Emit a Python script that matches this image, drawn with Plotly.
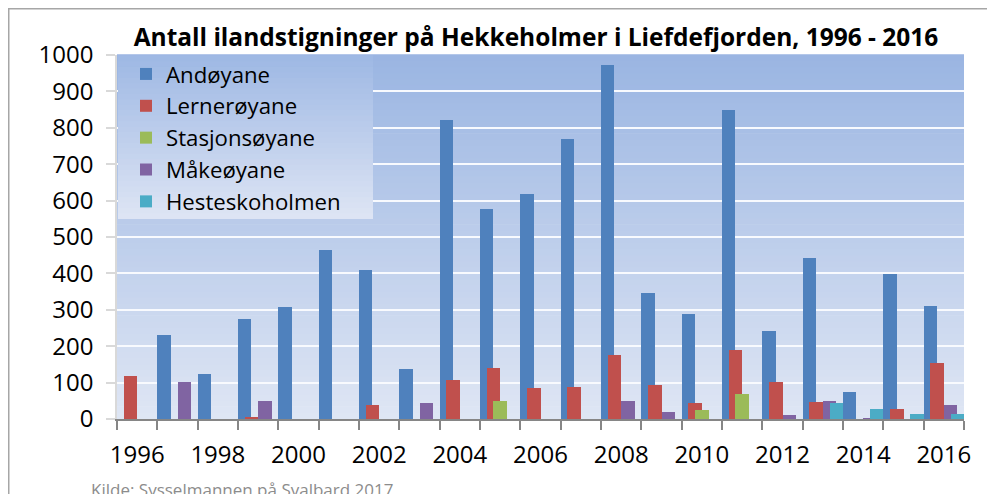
import plotly.graph_objects as go

years = list(range(1996, 2017))
series_names = ["Andøyane", "Lernerøyane", "Stasjonsøyane", "Måkeøyane", "Hesteskoholmen"]
andoyane = [None, 232, 124, 275, 307, 464, 408, 137, 821, 578, 617, 769, 972, 347, 288, 850, 242, 443, 74, 397, 310]
lerneroyane = [117, None, None, 5, None, None, 39, None, 107, 140, 85, 88, 175, 93, 45, 190, 102, 46, None, 28, 155]
stasjonsoyane = [None, None, None, None, None, None, None, None, None, 50, None, None, None, None, 25, 69, None, None, None, None, None]
makeoyane = [None, 103, None, 50, None, None, None, 43, None, None, None, None, 50, 20, None, None, 11, 49, 2, None, 38]
hesteskoholmen = [None] * 17 + [44, 27, 13, 14]
colors = ["#4F81BD", "#C0504D", "#9BBB59", "#8064A2", "#4BACC6"]
xtick_labels = [str(y) for y in range(1996, 2017, 2)]

title_text = "Antall ilandstigninger på Hekkeholmer i Liefdefjorden, 1996 - 2016"
source_text = "Kilde: Sysselmannen på Svalbard 2017"

FONT = "Open Sans"

fig = go.Figure()
all_series = [andoyane, lerneroyane, stasjonsoyane, makeoyane, hesteskoholmen]
for i, (name, vals) in enumerate(zip(series_names, all_series)):
    fig.add_trace(go.Bar(
        x=years, y=vals, name=name,
        marker=dict(color=colors[i], line=dict(width=0)),
        width=1/3, offset=-0.5 + i/6,
        legendgroup=name,
    ))

# page body has an 8px margin: work in figure pixels = screen pixels - 8
OFF = 8
W, H = 995 - OFF, 494 - OFF
L, R, T, B = 117 - OFF, 964 - OFF, 55 - OFF, 419 - OFF
pw, ph = R - L, B - T

def px_x(p):
    return (p - OFF - L) / pw

def px_y(p):
    return (B - (p - OFF)) / ph

def lerp(c1, c2, t):
    return "rgb(%d,%d,%d)" % tuple(round(a + (b - a) * t) for a, b in zip(c1, c2))

top_c = (154, 181, 226)
bot_c = (223, 230, 244)
shapes = []
N = 60
for k in range(N):
    y0 = k / N
    y1 = (k + 1) / N
    t = 1 - (y0 + y1) / 2
    shapes.append(dict(type="rect", xref="paper", yref="paper", x0=0, x1=1, y0=y0, y1=y1 + 0.002,
                       fillcolor=lerp(top_c, bot_c, t), line=dict(width=0), layer="below"))

# legend gradient box
lx0, lx1 = px_x(118), px_x(373)
ly0, ly1 = px_y(219), px_y(56)
NL = 30
for k in range(NL):
    a = ly0 + (ly1 - ly0) * k / NL
    b = ly0 + (ly1 - ly0) * (k + 1) / NL
    t = 1 - (k + 0.5) / NL
    shapes.append(dict(type="rect", xref="paper", yref="paper", x0=lx0, x1=lx1, y0=a, y1=b + 0.002,
                       fillcolor=lerp((158, 184, 228), (222, 229, 244), t), line=dict(width=0), layer="above"))

# outer frame
shapes.append(dict(type="rect", xref="paper", yref="paper", x0=px_x(OFF + 0.75), x1=px_x(1010),
                   y0=px_y(510), y1=px_y(OFF + 0.75), line=dict(color="#A6A6A6", width=1.5),
                   fillcolor="rgba(0,0,0,0)", layer="above"))

fig.update_layout(
    width=W, height=H,
    margin=dict(l=L, r=W - R, t=T, b=H - B),
    paper_bgcolor="white",
    plot_bgcolor="rgba(0,0,0,0)",
    barmode="overlay",
    font=dict(family=FONT, color="black"),
    title=dict(text="<b>" + title_text + "</b>", x=(536 - OFF) / W, xanchor="center",
               y=1 - (37 - OFF) / H, yanchor="middle", font=dict(size=24.5, family=FONT, color="black")),
    showlegend=True,
    legend=dict(x=px_x(126), y=px_y(53), xanchor="left", yanchor="top",
                bgcolor="rgba(0,0,0,0)", font=dict(size=22.2, family=FONT, color="black"),
                tracegroupgap=0, itemwidth=30),
    shapes=shapes,
    annotations=[dict(text=source_text, xref="paper", yref="paper", x=px_x(89), y=px_y(476),
                      xanchor="left", yanchor="top", showarrow=False,
                      font=dict(size=17, family=FONT, color="#8C8C8C"))],
    bargap=0,
)

fig.update_xaxes(
    range=[1995.5, 2016.5],
    tickvals=list(range(1996, 2017, 2)), ticktext=xtick_labels,
    ticks="", ticklen=0,
    tickfont=dict(size=24, family=FONT, color="black"),
    showline=True, linecolor="#868686", linewidth=1.5,
    showgrid=False, zeroline=False, ticklabelstandoff=13,
    minor=dict(tickvals=[y - 0.5 for y in range(1996, 2018)], ticks="outside", ticklen=9,
               tickcolor="#868686", tickwidth=1.5, showgrid=False),
)
fig.update_yaxes(
    range=[0, 1000], dtick=100,
    ticks="outside", ticklen=9, tickcolor="#D9D9D9", tickwidth=1.5,
    tickfont=dict(size=24, family=FONT, color="black"),
    showgrid=True, gridcolor="rgba(248,250,254,1)", gridwidth=2,
    showline=True, linecolor="#D9D9D9", linewidth=1.5,
    zeroline=False, ticklabelstandoff=8,
)

fig.write_html("out.html")
